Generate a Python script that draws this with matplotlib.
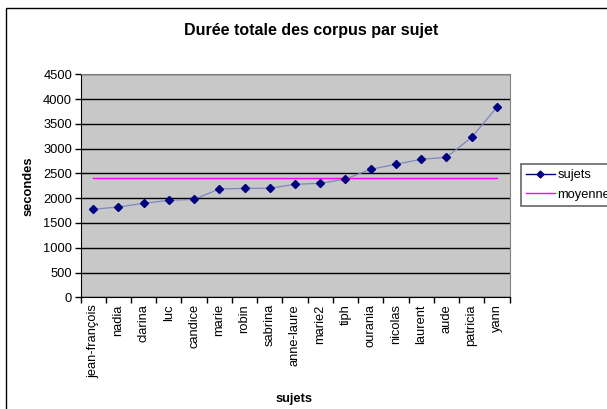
import matplotlib.pyplot as plt
from matplotlib.patches import Rectangle
from matplotlib.lines import Line2D

plt.rcParams["font.family"] = ["Liberation Sans", "DejaVu Sans"]

sujets = ["jean-françois", "nadia", "clarina", "luc", "candice", "marie", "robin",
          "sabrina", "anne-laure", "marie2", "tiph", "ourania", "nicolas", "laurent",
          "aude", "patricia", "yann"]
secondes = [1776, 1822, 1897, 1957, 1977, 2185, 2199, 2199, 2280, 2300, 2387,
            2583, 2684, 2785, 2825, 3228, 3834]
moyenne = 2400
y_ticks = [0, 500, 1000, 1500, 2000, 2500, 3000, 3500, 4000, 4500]

fig = plt.figure(figsize=(6.07, 4.09), dpi=100)
ax = fig.add_axes([80.5 / 607, 1 - 297.3 / 409, 429 / 607, 223 / 409])
ax.set_facecolor("#c8c8c8")

x = list(range(len(sujets)))

ax.plot(x, [moyenne] * len(x), color="#ff00ff", linewidth=1.0, zorder=3)
ax.plot(x, secondes, color="#7f86c0", linewidth=0.9, zorder=4)
ax.plot(x, secondes, linestyle="none", marker="D", markersize=3.8,
        color="#000080", zorder=5)

ax.set_xlim(-0.5, len(sujets) - 0.5)
ax.set_ylim(0, 4500)
ax.set_yticks(y_ticks)
ax.set_yticklabels([str(v) for v in y_ticks], fontsize=9.3)
ax.yaxis.grid(True, color="black", linewidth=1.0)
ax.set_axisbelow(True)

# category boundaries as ticks, names centred on categories
ax.set_xticks([i - 0.5 for i in range(len(sujets) + 1)])
ax.set_xticklabels([])
ax.set_xticks(x, minor=True)
ax.set_xticklabels(sujets, minor=True, rotation=90, fontsize=9.3)
ax.tick_params(axis="x", which="minor", length=0, pad=5)
ax.tick_params(axis="x", which="major", direction="out", length=4, width=1)
ax.tick_params(axis="y", direction="out", length=4, width=1, pad=2)

for s in ["top", "right"]:
    ax.spines[s].set_color("#808080")
for s in ["left", "bottom"]:
    ax.spines[s].set_color("#000000")

ax.set_ylabel("secondes", fontsize=9.3, fontweight="bold", labelpad=6)
ax.set_xlabel("sujets", fontsize=9.3, fontweight="bold", labelpad=12)
ax.xaxis.set_label_coords((294 - 80.5) / 429, -(393 - 297.3) / 223)

fig.text(311.6 / 607, 1 - 30 / 409, "Durée totale des corpus par sujet",
         ha="center", va="center", fontsize=11.5, fontweight="bold")

handles = [
    Line2D([], [], color="#000080", linewidth=1.0, marker="D", markersize=3.5),
    Line2D([], [], color="#ff00ff", linewidth=1.0),
]
leg = fig.legend(handles, ["sujets", "moyenne"], loc="upper left",
                 bbox_to_anchor=(521 / 607, 1 - 164 / 409), fontsize=9.3,
                 frameon=True, fancybox=False, handlelength=2.2,
                 handletextpad=0.2, labelspacing=0.6, borderpad=0.4,
                 borderaxespad=0)
leg.get_frame().set_edgecolor("#404040")
leg.get_frame().set_linewidth(1.2)

fig.patches.append(Rectangle((6 / 607, -0.02), 1.0, (409 - 8) / 409 + 0.02,
                             transform=fig.transFigure, fill=False,
                             edgecolor="black", linewidth=1.0))

fig.savefig("out.png", dpi=100)
